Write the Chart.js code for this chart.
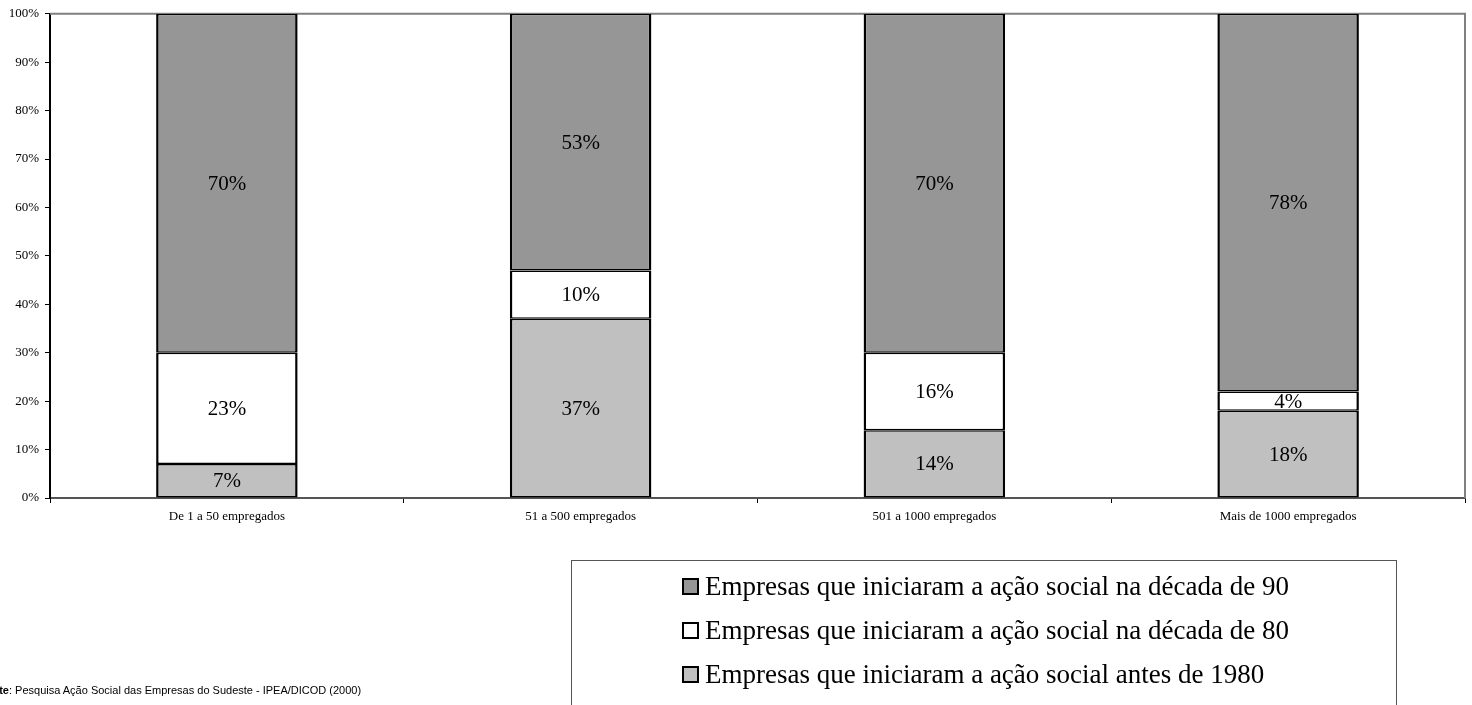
<!DOCTYPE html>
<html>
<head>
<meta charset="utf-8">
<script src="https://cdn.jsdelivr.net/npm/chart.js@4"></script>
<style>
    body { margin: 0; background: #fff; overflow: hidden; }
    #wrap { position: relative; width: 1472px; height: 705px; }
    #grafico { position: absolute; left: 0; top: 0; }
    #legenda {
        position: absolute; left: 571px; top: 560px; width: 826px; height: 170px;
        border: 1px solid #555; box-sizing: border-box; padding-top: 3px;
        font-family: "Liberation Serif", "Times New Roman", serif; font-size: 27px; color: #000;
    }
    #legenda .item { height: 44px; line-height: 44px; padding-left: 110px; white-space: nowrap; }
    #legenda .cx {
        display: inline-block; width: 13px; height: 13px; border: 2px solid #000;
        vertical-align: middle; margin-right: 6px; position: relative; top: -2px;
    }
    #fonte {
        position: absolute; left: -21px; top: 684px; white-space: nowrap;
        font-family: "Liberation Sans", Arial, sans-serif; font-size: 11px; color: #000;
    }
</style>
</head>
<body>
<div id="wrap">
    <canvas id="grafico" width="1472" height="705"></canvas>
    <div id="legenda"></div>
    <div id="fonte"><b>Fonte</b>: Pesquisa Ação Social das Empresas do Sudeste - IPEA/DICOD (2000)</div>
</div>
<script>
// Dados do gráfico
var categorias = ['De 1 a 50 empregados', '51 a 500 empregados', '501 a 1000 empregados', 'Mais de 1000 empregados'];
var antes1980 = [7, 37, 14, 18];
var decada80 = [23, 10, 16, 4];
var decada90 = [70, 53, 70, 78];
var nomesSeries = [
    'Empresas que iniciaram a ação social antes de 1980',
    'Empresas que iniciaram a ação social na década de 80',
    'Empresas que iniciaram a ação social na década de 90'
];
var coresSeries = ['#C0C0C0', '#FFFFFF', '#969696'];

// Rótulos de percentagem no centro de cada segmento
var rotulosPlugin = {
    id: 'rotulos',
    afterDatasetsDraw: function(chart) {
        var ctx = chart.ctx;
        ctx.save();
        ctx.font = '21px "Liberation Serif", "Times New Roman", serif';
        ctx.fillStyle = '#000';
        ctx.textAlign = 'center';
        ctx.textBaseline = 'middle';
        chart.data.datasets.forEach(function(ds, i) {
            var meta = chart.getDatasetMeta(i);
            meta.data.forEach(function(el, j) {
                var p = el.getCenterPoint();
                ctx.fillText(ds.data[j] + '%', p.x, p.y + 1);
            });
        });
        ctx.restore();
    }
};

// Bordas superior e direita da área do gráfico
var bordaPlugin = {
    id: 'borda',
    beforeDatasetsDraw: function(chart) {
        var a = chart.chartArea;
        var ctx = chart.ctx;
        ctx.save();
        ctx.strokeStyle = '#808080';
        ctx.lineWidth = 2;
        ctx.beginPath();
        ctx.moveTo(a.left, a.top);
        ctx.lineTo(a.right, a.top);
        ctx.lineTo(a.right, a.bottom);
        ctx.stroke();
        ctx.restore();
    }
};

var datasets = [antes1980, decada80, decada90].map(function(valores, i) {
    return {
        label: nomesSeries[i],
        data: valores,
        backgroundColor: coresSeries[i],
        borderColor: '#000',
        borderWidth: { left: 2.5, right: 2.5, top: 1.5, bottom: 1.5 },
        borderSkipped: false,
        barPercentage: 0.4,
        categoryPercentage: 1
    };
});

new Chart(document.getElementById('grafico').getContext('2d'), {
    type: 'bar',
    data: { labels: categorias, datasets: datasets },
    options: {
        responsive: false,
        animation: false,
        layout: { padding: { top: 13, right: 7, left: 0, bottom: 0 } },
        plugins: { legend: { display: false }, tooltip: { enabled: false } },
        scales: {
            x: {
                stacked: true,
                offset: true,
                afterFit: function(s) { s.height = 207; },
                border: { color: '#555', width: 2 },
                grid: { offset: true, drawOnChartArea: false, drawTicks: true, tickLength: 5, color: '#000' },
                ticks: { color: '#000', padding: 6, font: { family: '"Liberation Serif", "Times New Roman", serif', size: 13 } }
            },
            y: {
                stacked: true,
                min: 0,
                max: 100,
                afterFit: function(s) { s.width = 50; },
                border: { color: '#000', width: 2 },
                grid: { drawOnChartArea: false, drawTicks: true, tickLength: 5, color: '#000' },
                ticks: {
                    stepSize: 10,
                    color: '#000',
                    padding: 6,
                    font: { family: '"Liberation Serif", "Times New Roman", serif', size: 13 },
                    callback: function(v) { return v + '%'; }
                }
            }
        }
    },
    plugins: [bordaPlugin, rotulosPlugin]
});

// Legenda em HTML (ordem invertida, como no original)
var legenda = document.getElementById('legenda');
for (var i = nomesSeries.length - 1; i >= 0; i--) {
    var item = document.createElement('div');
    item.className = 'item';
    item.innerHTML = '<span class="cx" style="background:' + coresSeries[i] + '"></span>' + nomesSeries[i];
    legenda.appendChild(item);
}
</script>
</body>
</html>
